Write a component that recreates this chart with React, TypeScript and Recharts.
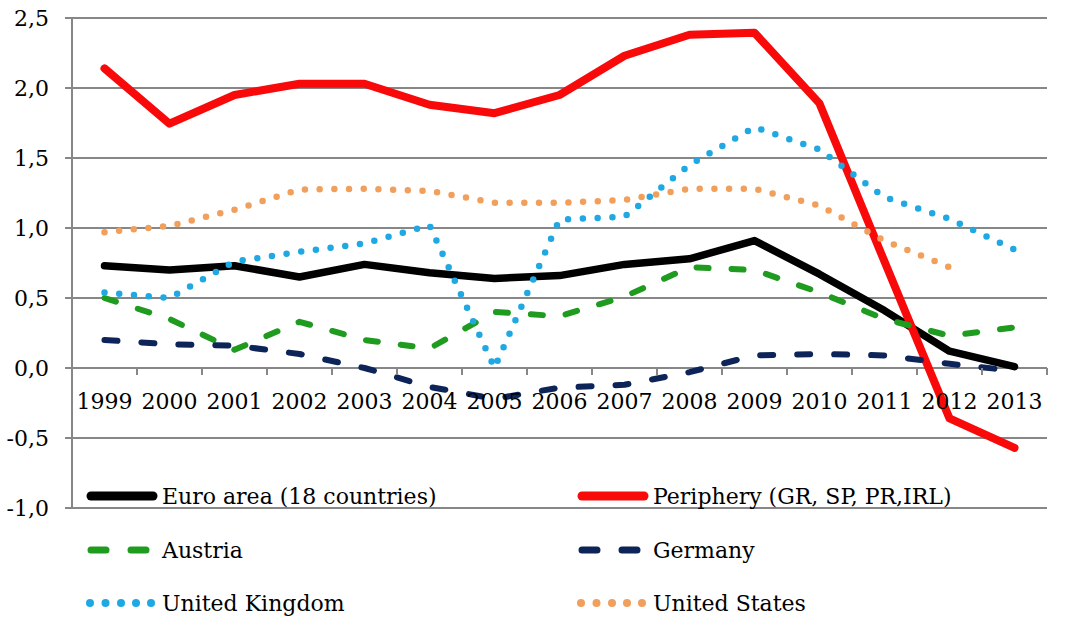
import React from 'react';
import { LineChart, Line, XAxis, YAxis, CartesianGrid } from 'recharts';

// values
const years = ['1999', '2000', '2001', '2002', '2003', '2004', '2005', '2006', '2007', '2008', '2009', '2010', '2011', '2012', '2013'];
const euroArea = [0.73, 0.70, 0.73, 0.65, 0.74, 0.68, 0.64, 0.66, 0.74, 0.78, 0.91, 0.67, 0.41, 0.12, 0.01];
const periphery = [2.14, 1.745, 1.95, 2.03, 2.03, 1.88, 1.82, 1.95, 2.23, 2.38, 2.395, 1.89, 0.76, -0.36, -0.57];
const austria = [0.50, 0.35, 0.13, 0.33, 0.20, 0.14, 0.40, 0.37, 0.51, 0.72, 0.70, 0.54, 0.35, 0.23, 0.29];
const germany = [0.20, 0.17, 0.16, 0.10, 0.00, -0.135, -0.22, -0.14, -0.12, -0.03, 0.09, 0.10, 0.09, 0.03, -0.02];
const unitedKingdom = [0.54, 0.50, 0.76, 0.83, 0.89, 1.02, 0.0, 1.06, 1.08, 1.45, 1.72, 1.56, 1.22, 1.065, 0.845];
const unitedStates = [0.97, 1.015, 1.13, 1.275, 1.28, 1.265, 1.18, 1.18, 1.20, 1.28, 1.28, 1.16, 0.91, 0.72, null];
const yTicks = [-1, -0.5, 0, 0.5, 1, 1.5, 2, 2.5];

const data = years.map((year, i) => ({
  year,
  euro: euroArea[i],
  periphery: periphery[i],
  austria: austria[i],
  germany: germany[i],
  uk: unitedKingdom[i],
  us: unitedStates[i],
}));

const FONT = '"DejaVu Serif", serif';
const FONT_SIZE = 22;
const GRID = '#878787';
const WIDTH = 1065;
const HEIGHT = 642;
const MARGIN = { top: 18, right: 18, left: 12, bottom: 104 };
const Y_AXIS_W = 60;
const X_AXIS_H = 30;
const plotLeft = MARGIN.left + Y_AXIS_W;
const plotRight = WIDTH - MARGIN.right;
const plotTop = MARGIN.top;
const plotBottom = HEIGHT - MARGIN.bottom - X_AXIS_H;
const yMin = yTicks[0];
const yMax = yTicks[yTicks.length - 1];
const zeroY = plotTop + ((yMax - 0) / (yMax - yMin)) * (plotBottom - plotTop);
const bandW = (plotRight - plotLeft) / years.length;

const series = [
  { key: 'euro', name: 'Euro area (18 countries)', color: '#000000', width: 7.5, dash: undefined, kind: 'solid' },
  { key: 'periphery', name: 'Periphery (GR, SP, PR,IRL)', color: '#f80a0a', width: 8, dash: undefined, kind: 'solid' },
  { key: 'austria', name: 'Austria', color: '#1f9c1f', width: 6, dash: '12 23', kind: 'dash' },
  { key: 'germany', name: 'Germany', color: '#0c2458', width: 6, dash: '13 24', kind: 'dash' },
  { key: 'uk', name: 'United Kingdom', color: '#1fa8e2', width: 6.5, dash: '0 14.8', kind: 'dot' },
  { key: 'us', name: 'United States', color: '#f0a05c', width: 6.5, dash: '0 14.7', kind: 'dot' },
];

// category labels sit under the zero line, tick marks on the band edges
function YearTick(props: any) {
  const { x, payload, index } = props;
  const left = x - bandW / 2;
  return (
    <g>
      <line x1={left} y1={zeroY} x2={left} y2={zeroY + 7} stroke={GRID} strokeWidth={2} />
      {index === years.length - 1 && (
        <line x1={left + bandW} y1={zeroY} x2={left + bandW} y2={zeroY + 7} stroke={GRID} strokeWidth={2} />
      )}
      <text x={x} y={zeroY + 41} textAnchor="middle" fontFamily={FONT} fontSize={FONT_SIZE} fill="#000">
        {payload.value}
      </text>
    </g>
  );
}

function LegendSymbol({ s }: { s: (typeof series)[number] }) {
  if (s.kind === 'solid') {
    return <line x1={5} y1={8} x2={67} y2={8} stroke={s.color} strokeWidth={9} strokeLinecap="round" />;
  }
  if (s.kind === 'dash') {
    return (
      <line x1={5} y1={8} x2={60} y2={8} stroke={s.color} strokeWidth={7} strokeLinecap="round" strokeDasharray="15 25" />
    );
  }
  return (
    <g>
      {[4, 19.5, 35, 50, 65].map((cx) => (
        <circle key={cx} cx={cx} cy={8} r={4} fill={s.color} />
      ))}
    </g>
  );
}

function ChartLegend() {
  const cols = [86, 577];
  const rows = [496, 550, 603];
  return (
    <>
      {series.map((s, i) => (
        <div
          key={s.key}
          style={{
            position: 'absolute',
            left: cols[i % 2],
            top: rows[Math.floor(i / 2)] - 14,
            height: 28,
            display: 'flex',
            alignItems: 'center',
            fontFamily: FONT,
            fontSize: FONT_SIZE,
            color: '#000',
            whiteSpace: 'nowrap',
          }}
        >
          <svg width={72} height={16} style={{ marginRight: 4 }}>
            <LegendSymbol s={s} />
          </svg>
          <span>{s.name}</span>
        </div>
      ))}
    </>
  );
}

export default function App() {
  return (
    <div style={{ position: 'absolute', left: 0, top: 0, width: WIDTH, height: HEIGHT, background: '#fff' }}>
      <LineChart width={WIDTH} height={HEIGHT} data={data} margin={MARGIN}>
        <CartesianGrid vertical={false} stroke={GRID} strokeWidth={2} />
        <XAxis
          dataKey="year"
          height={X_AXIS_H}
          axisLine={false}
          tickLine={false}
          interval={0}
          padding={{ left: bandW / 2, right: bandW / 2 }}
          tick={<YearTick />}
        />
        <YAxis
          width={Y_AXIS_W}
          domain={[yMin, yMax]}
          ticks={yTicks}
          interval={0}
          axisLine={{ stroke: GRID, strokeWidth: 2 }}
          tickLine={{ stroke: GRID, strokeWidth: 2 }}
          tickSize={7}
          tickMargin={16}
          tick={{ fontFamily: FONT, fontSize: FONT_SIZE, fill: '#000' }}
          tickFormatter={(v: number) => v.toFixed(1).replace('.', ',')}
        />
        {series.map((s) => (
          <Line
            key={s.key}
            type="linear"
            dataKey={s.key}
            name={s.name}
            stroke={s.color}
            strokeWidth={s.width}
            strokeDasharray={s.dash}
            strokeLinecap="round"
            strokeLinejoin="round"
            dot={false}
            activeDot={false}
            isAnimationActive={false}
          />
        ))}
      </LineChart>
      <ChartLegend />
    </div>
  );
}
